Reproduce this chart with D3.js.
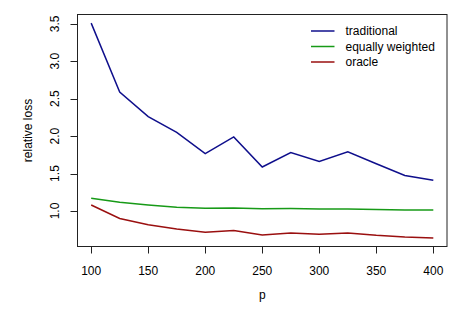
<!DOCTYPE html>
<html>
<head>
<meta charset="utf-8">
<script src="https://cdn.jsdelivr.net/npm/d3@7"></script>
<style>
  body { margin: 0; background: #fff; }
  text { font-family: "Liberation Sans", Arial, sans-serif; font-size: 12px; fill: #000; }
</style>
</head>
<body>
<div id="chart"></div>
<script>
const p = [100, 125, 150, 175, 200, 225, 250, 275, 300, 325, 350, 375, 400]
const traditional = [3.51, 2.59, 2.26, 2.05, 1.765, 1.99, 1.587, 1.78, 1.66, 1.79, 1.63, 1.475, 1.41]
const equallyWeighted = [1.17, 1.115, 1.08, 1.05, 1.035, 1.038, 1.03, 1.032, 1.027, 1.027, 1.018, 1.013, 1.012]
const oracle = [1.08, 0.90, 0.817, 0.76, 0.715, 0.74, 0.678, 0.706, 0.688, 0.706, 0.675, 0.653, 0.64]
const xTicks = [100, 150, 200, 250, 300, 350, 400]
const yTicks = [1.0, 1.5, 2.0, 2.5, 3.0, 3.5]

const series = [
    { name: "traditional", values: traditional, color: "#0f0f8c" },
    { name: "equally weighted", values: equallyWeighted, color: "#179a17" },
    { name: "oracle", values: oracle, color: "#9a0f0f" }
]

const width = 463, height = 309
const box = { left: 77.5, right: 447, top: 14.5, bottom: 246.5 }

const svg = d3.select("#chart")
    .append("svg")
    .attr("width", width)
    .attr("height", height)

// R style axis limits: data range padded by 4%
function pad(ext) {
    const r = ext[1] - ext[0]
    return [ext[0] - 0.04 * r, ext[1] + 0.04 * r]
}

const allY = series.flatMap(s => s.values)

const xScale = d3.scaleLinear()
    .domain(pad(d3.extent(p)))
    .range([box.left, box.right])

const yScale = d3.scaleLinear()
    .domain(pad(d3.extent(allY)))
    .range([box.bottom, box.top])

const line = d3.line()
    .x((d, i) => xScale(p[i]))
    .y(d => yScale(d))

series.forEach(s => {
    svg.append("path")
        .datum(s.values)
        .attr("d", line)
        .attr("fill", "none")
        .attr("stroke", s.color)
        .attr("stroke-width", 1.5)
})

// plot box
svg.append("rect")
    .attr("x", box.left)
    .attr("y", box.top)
    .attr("width", box.right - box.left)
    .attr("height", box.bottom - box.top)
    .attr("fill", "none")
    .attr("stroke", "#222")
    .attr("stroke-width", 1)

// x axis
const xAxis = svg.append("g")
xAxis.selectAll("line")
    .data(xTicks)
    .join("line")
    .attr("x1", d => Math.round(xScale(d)) + 0.5)
    .attr("x2", d => Math.round(xScale(d)) + 0.5)
    .attr("y1", box.bottom)
    .attr("y2", box.bottom + 7)
    .attr("stroke", "#222")
xAxis.selectAll("text")
    .data(xTicks)
    .join("text")
    .attr("x", d => xScale(d))
    .attr("y", 275)
    .attr("text-anchor", "middle")
    .text(d => d)

// y axis
const yAxis = svg.append("g")
yAxis.selectAll("line")
    .data(yTicks)
    .join("line")
    .attr("x1", box.left - 7)
    .attr("x2", box.left)
    .attr("y1", d => Math.round(yScale(d)) + 0.5)
    .attr("y2", d => Math.round(yScale(d)) + 0.5)
    .attr("stroke", "#222")
yAxis.selectAll("text")
    .data(yTicks)
    .join("text")
    .attr("transform", d => `translate(59, ${yScale(d)}) rotate(-90)`)
    .attr("text-anchor", "middle")
    .text(d => d3.format(".1f")(d))

// axis titles
svg.append("text")
    .attr("x", xScale(250))
    .attr("y", 299)
    .attr("text-anchor", "middle")
    .text("p")

svg.append("text")
    .attr("transform", `translate(32, ${(box.top + box.bottom) / 2}) rotate(-90)`)
    .attr("text-anchor", "middle")
    .text("relative loss")

// legend, no frame
const legend = svg.append("g")
    .attr("transform", "translate(311, 31)")

series.forEach((s, i) => {
    legend.append("line")
        .attr("x1", 0)
        .attr("x2", 23.5)
        .attr("y1", i * 15.5)
        .attr("y2", i * 15.5)
        .attr("stroke", s.color)
        .attr("stroke-width", 1.5)
    legend.append("text")
        .attr("x", 34.5)
        .attr("y", i * 15.5 + 4.3)
        .text(s.name)
})
</script>
</body>
</html>
